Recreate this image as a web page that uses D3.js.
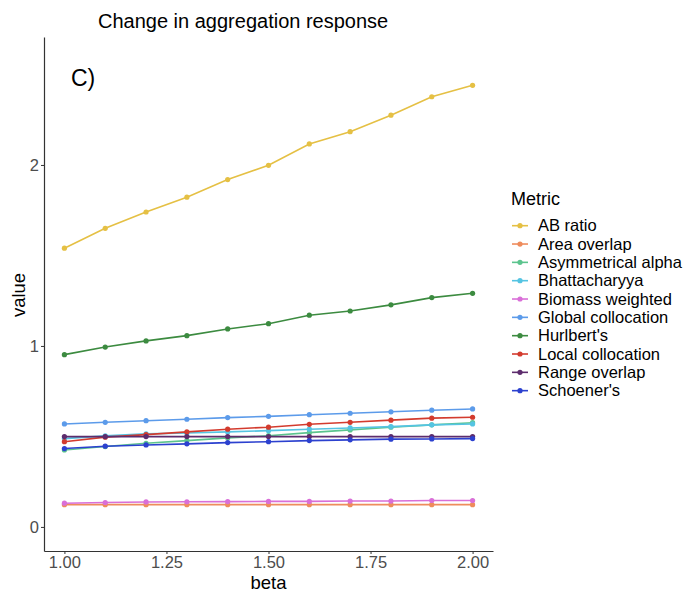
<!DOCTYPE html>
<html lang="en">
  <head>
    <meta charset="utf-8" />
    <title>Change in aggregation response</title>
    <script src="https://cdnjs.cloudflare.com/ajax/libs/d3/7.8.5/d3.min.js"></script>
    <style>
      body { margin: 0; background: #fff; }
      text { font-family: "Liberation Sans", Arial, sans-serif; }
    </style>
  </head>
  <body>
    <script>
      // data
      const betas = [1.0, 1.1, 1.2, 1.3, 1.4, 1.5, 1.6, 1.7, 1.8, 1.9, 2.0];

      const metrics = ["AB ratio", "Area overlap", "Asymmetrical alpha", "Bhattacharyya",
        "Biomass weighted", "Global collocation", "Hurlbert's", "Local collocation",
        "Range overlap", "Schoener's"];

      const colors = ["#E5C044", "#EE8C5C", "#5CC48E", "#55C4E2", "#D96FD8",
        "#5C9BEA", "#3C8B40", "#D33B2E", "#5D2C6D", "#2C41CF"];

      const abRatio = [1.540, 1.650, 1.740, 1.822, 1.919, 1.998, 2.116, 2.184, 2.275, 2.377, 2.440];
      const areaOverlap = [0.123, 0.123, 0.123, 0.123, 0.123, 0.123, 0.123, 0.123, 0.123, 0.123, 0.123];
      const asymAlpha = [0.425, 0.444, 0.462, 0.477, 0.492, 0.504, 0.521, 0.536, 0.551, 0.564, 0.576];
      const bhatta = [0.488, 0.503, 0.514, 0.519, 0.525, 0.532, 0.540, 0.547, 0.554, 0.564, 0.569];
      const biomass = [0.131, 0.135, 0.138, 0.139, 0.140, 0.141, 0.141, 0.143, 0.143, 0.146, 0.146];
      const globalColl = [0.569, 0.578, 0.587, 0.595, 0.604, 0.611, 0.620, 0.628, 0.636, 0.645, 0.652];
      const hurlbert = [0.952, 0.994, 1.028, 1.057, 1.094, 1.123, 1.170, 1.193, 1.227, 1.267, 1.291];
      const localColl = [0.471, 0.496, 0.510, 0.525, 0.540, 0.551, 0.567, 0.578, 0.590, 0.601, 0.606];
      const rangeOverlap = [0.499, 0.499, 0.499, 0.499, 0.499, 0.499, 0.499, 0.499, 0.499, 0.499, 0.499];
      const schoener = [0.433, 0.446, 0.453, 0.459, 0.466, 0.471, 0.477, 0.481, 0.485, 0.486, 0.488];

      const seriesValues = [abRatio, areaOverlap, asymAlpha, bhatta, biomass,
        globalColl, hurlbert, localColl, rangeOverlap, schoener];

      const xTicks = [1.0, 1.25, 1.5, 1.75, 2.0];
      const yTicks = [0, 1, 2];

      const width = 690;
      const height = 593;
      const marginLeft = 44;
      const marginRight = 197;
      const marginTop = 37;
      const marginBottom = 42;

      const svg = d3.select("body").append("svg")
        .attr("width", width)
        .attr("height", height)
        .attr("viewBox", [0, 0, width, height]);

      const x = d3.scaleLinear()
        .domain([0.95, 2.05])
        .range([marginLeft, width - marginRight]);

      const y = d3.scaleLinear()
        .domain([-0.133, 2.707])
        .range([height - marginBottom, marginTop]);

      // axes
      svg.append("g")
        .attr("transform", `translate(0,${height - marginBottom})`)
        .call(d3.axisBottom(x).tickValues(xTicks).tickFormat(d3.format(".2f")).tickSize(3).tickSizeOuter(0))
        .call(g => g.select(".domain").attr("stroke", "#333").attr("stroke-width", 1.2))
        .call(g => g.selectAll(".tick line").attr("stroke", "#333"))
        .call(g => g.selectAll(".tick text").attr("fill", "#4d4d4d").attr("font-size", 16.5)
          .attr("font-family", "Liberation Sans, Arial, sans-serif").attr("y", 5).attr("dy", "0.71em"));

      svg.append("g")
        .attr("transform", `translate(${marginLeft},0)`)
        .call(d3.axisLeft(y).tickValues(yTicks).tickFormat(d3.format("d")).tickSize(3).tickSizeOuter(0))
        .call(g => g.select(".domain").attr("stroke", "#333").attr("stroke-width", 1.2))
        .call(g => g.selectAll(".tick line").attr("stroke", "#333"))
        .call(g => g.selectAll(".tick text").attr("fill", "#4d4d4d").attr("font-size", 16.5)
          .attr("font-family", "Liberation Sans, Arial, sans-serif").attr("x", -5));

      // axis titles
      svg.append("text")
        .attr("x", x(1.5))
        .attr("y", 589)
        .attr("text-anchor", "middle")
        .attr("font-size", 18.5)
        .text("beta");

      svg.append("text")
        .attr("transform", "translate(25,295) rotate(-90)")
        .attr("text-anchor", "middle")
        .attr("font-size", 18.5)
        .text("value");

      // title and panel tag
      svg.append("text")
        .attr("x", 98)
        .attr("y", 28)
        .attr("font-size", 20)
        .text("Change in aggregation response");

      svg.append("text")
        .attr("x", 71)
        .attr("y", 86)
        .attr("font-size", 23)
        .text("C)");

      // lines and points
      const line = d3.line()
        .x((d, i) => x(betas[i]))
        .y(d => y(d));

      const series = svg.append("g")
        .selectAll("g")
        .data(seriesValues)
        .join("g")
        .attr("stroke", (d, i) => colors[i])
        .attr("fill", (d, i) => colors[i]);

      series.append("path")
        .attr("fill", "none")
        .attr("stroke-width", 1.6)
        .attr("d", line);

      series.selectAll("circle")
        .data(d => d)
        .join("circle")
        .attr("stroke", "none")
        .attr("cx", (d, i) => x(betas[i]))
        .attr("cy", d => y(d))
        .attr("r", 2.6);

      // legend
      const legend = svg.append("g")
        .attr("transform", "translate(511,0)");

      legend.append("text")
        .attr("x", 0)
        .attr("y", 205)
        .attr("font-size", 18)
        .text("Metric");

      const item = legend.selectAll("g")
        .data(metrics)
        .join("g")
        .attr("transform", (d, i) => `translate(0,${225.7 + i * 18.33})`);

      item.append("line")
        .attr("x1", 1)
        .attr("x2", 17)
        .attr("stroke", (d, i) => colors[i])
        .attr("stroke-width", 1.6);

      item.append("circle")
        .attr("cx", 9)
        .attr("r", 2.6)
        .attr("fill", (d, i) => colors[i]);

      item.append("text")
        .attr("x", 27)
        .attr("dy", "0.35em")
        .attr("font-size", 16.5)
        .text(d => d);
    </script>
  </body>
</html>
